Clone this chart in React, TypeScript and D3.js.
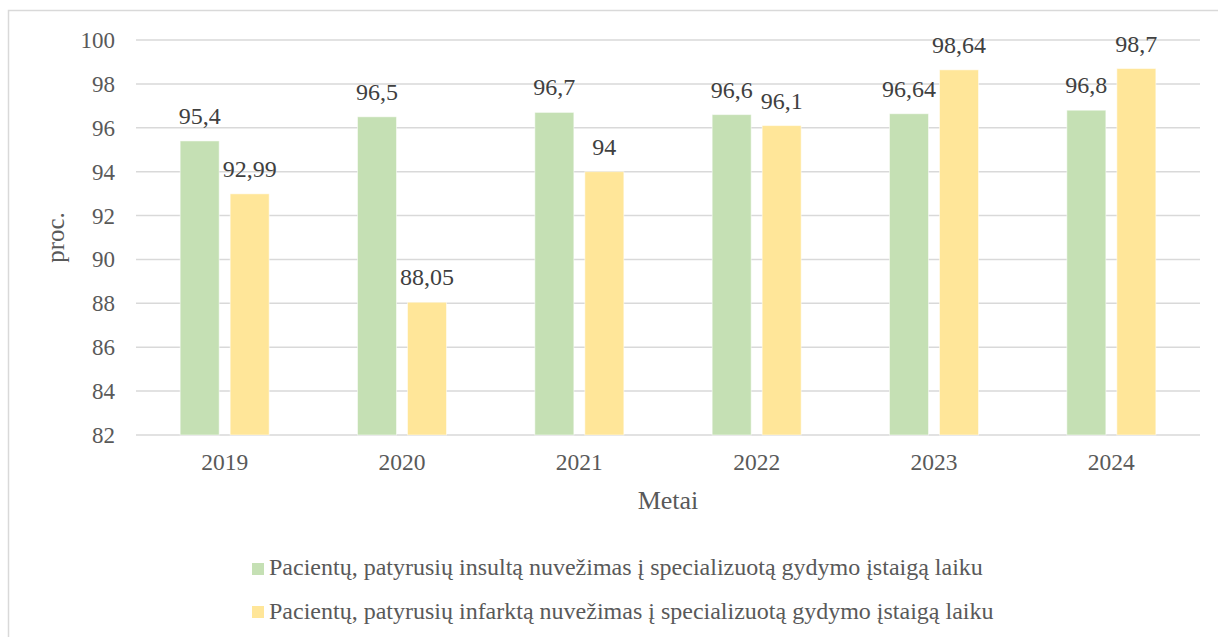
import * as d3 from "d3";

const years = ["2019", "2020", "2021", "2022", "2023", "2024"];
const stroke = [95.4, 96.5, 96.7, 96.6, 96.64, 96.8];
const infarct = [92.99, 88.05, 94, 96.1, 98.64, 98.7];
const yTicks = [82, 84, 86, 88, 90, 92, 94, 96, 98, 100];
const seriesNames = [
  "Pacientų, patyrusių insultą nuvežimas į specializuotą gydymo įstaigą laiku",
  "Pacientų, patyrusių infarktą nuvežimas į specializuotą gydymo įstaigą laiku",
];
const colors = ["#C5E0B4", "#FFE699"];

const fmt = (v: number) => String(v).replace(".", ",");

export default function App() {
  const width = 1218;
  const height = 637;
  const plot = { left: 136, right: 1200, top: 40, bottom: 435 };
  const font = '"Liberation Serif", "Times New Roman", "DejaVu Serif", serif';

  const x = d3.scaleBand<string>().domain(years).range([plot.left, plot.right]);
  const y = d3.scaleLinear().domain([82, 100]).range([plot.bottom, plot.top]);
  const barW = 39;
  const gap = 11;
  const series = [stroke, infarct];

  return (
    <svg
      width={width}
      height={height}
      style={{ position: "absolute", left: 0, top: 0, background: "#fff", fontFamily: font }}
    >
      <rect x={8.5} y={10.5} width={1230} height={660} fill="#fff" stroke="#D9D9D9" strokeWidth={1.5} />
      {yTicks.map((t) => (
        <g key={t}>
          <line x1={plot.left} x2={plot.right} y1={y(t)} y2={y(t)} stroke="#D9D9D9" strokeWidth={1.5} />
          <text x={115} y={y(t) + 8} textAnchor="end" fontSize={23} fill="#595959">
            {t}
          </text>
        </g>
      ))}
      {years.map((yr, i) => {
        const cx = (x(yr) ?? 0) + x.bandwidth() / 2;
        return (
          <g key={yr}>
            {series.map((s, si) => {
              const bx = si === 0 ? cx - gap / 2 - barW : cx + gap / 2;
              const top = y(s[i]);
              return (
                <g key={si}>
                  <rect
                    x={bx}
                    y={top}
                    width={barW}
                    height={plot.bottom - top}
                    fill={colors[si]}
                    stroke="#fff"
                    strokeOpacity={0.5}
                    strokeWidth={1}
                  />
                  <text x={bx + barW / 2} y={top - 17} textAnchor="middle" fontSize={24} fill="#404040">
                    {fmt(s[i])}
                  </text>
                </g>
              );
            })}
            <text x={cx} y={470} textAnchor="middle" fontSize={23.5} fill="#595959">
              {yr}
            </text>
          </g>
        );
      })}
      <text x={(plot.left + plot.right) / 2} y={509} textAnchor="middle" fontSize={26} fill="#595959">
        Metai
      </text>
      <text
        transform={`translate(64, ${(plot.top + plot.bottom) / 2}) rotate(-90)`}
        textAnchor="middle"
        fontSize={25}
        fill="#595959"
      >
        proc.
      </text>
      {seriesNames.map((n, i) => (
        <g key={n}>
          <rect x={252} y={563 + i * 43} width={12} height={12} fill={colors[i]} />
          <text x={269} y={575 + i * 44} fontSize={24} fill="#595959">
            {n}
          </text>
        </g>
      ))}
    </svg>
  );
}
